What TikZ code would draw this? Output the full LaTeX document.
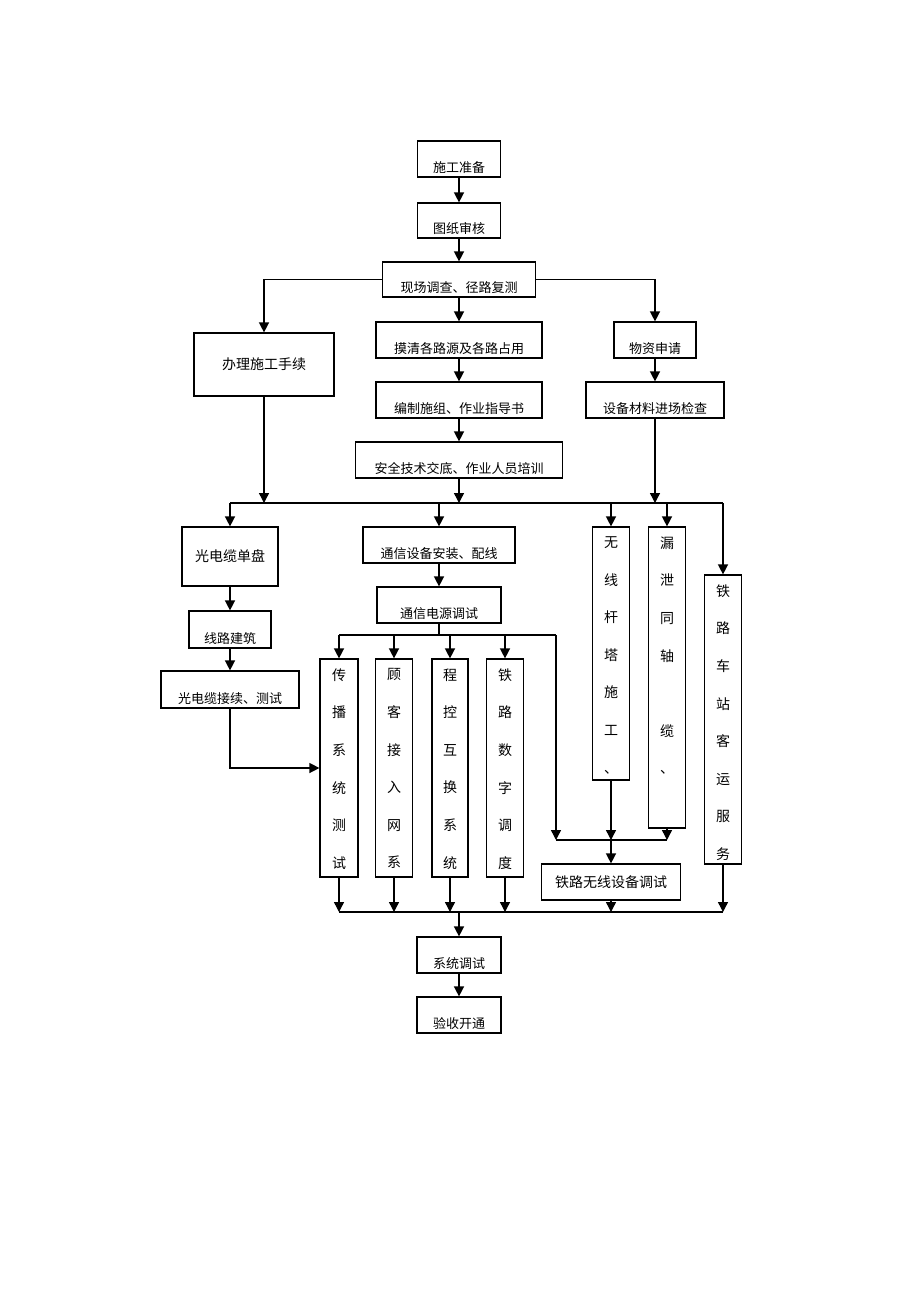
\documentclass[tikz,border=0pt]{standalone}
\usepackage{fontspec}
\newfontfamily\cjk{Noto Sans CJK SC}
\usetikzlibrary{arrows.meta,calc}
\begin{document}
\begin{tikzpicture}[x=1pt,y=-1pt,
  box/.style 2 args={draw,line width=1.2pt,inner sep=0pt,minimum width=#1,minimum height=#2},
  txt/.style={font=\cjk\fontsize{14}{14}\selectfont,inner sep=0pt},
  stxt/.style={font=\cjk\fontsize{13}{13}\selectfont,inner sep=0pt,anchor=base},
  vtxt/.style={font=\cjk\fontsize{14}{37.6}\selectfont,align=center,inner sep=0pt,anchor=north},
  arr/.style={-{Triangle[length=10pt,width=10pt]},line width=1.4pt},
  ln/.style={line width=1.4pt}]
\fill[white] (0,0) rectangle (920,1302);
\useasboundingbox (0,0) rectangle (920,1302);

% top chain
\node[box={83pt}{36pt}] (n1) at (459,159) {};
\node[stxt] (t1) at ($(n1.south)+(0,-5)$) {施工准备};
\node[box={83pt}{35pt}] (n2) at (459,220.5) {};
\node[stxt] (t2) at ($(n2.south)+(0,-5)$) {图纸审核};
\node[box={153pt}{35pt}] (n3) at (459,279.5) {};
\node[stxt] (t3) at ($(n3.south)+(0,-5)$) {现场调查、径路复测};

\node[box={140pt}{63pt},txt] (n4) at (264,364.5) {办理施工手续};
\node[box={166pt}{36pt}] (n5) at (459,340) {};
\node[stxt] (t5) at ($(n5.south)+(0,-5)$) {摸清各路源及各路占用};
\node[box={166pt}{36pt}] (n6) at (459,400) {};
\node[stxt] (t6) at ($(n6.south)+(0,-5)$) {编制施组、作业指导书};
\node[box={207pt}{36pt}] (n7) at (459,460) {};
\node[stxt] (t7) at ($(n7.south)+(0,-5)$) {安全技术交底、作业人员培训};
\node[box={82pt}{36pt}] (n8) at (655,340) {};
\node[stxt] (t8) at ($(n8.south)+(0,-5)$) {物资申请};
\node[box={138pt}{36pt}] (n9) at (655,400) {};
\node[stxt] (t9) at ($(n9.south)+(0,-5)$) {设备材料进场检查};

\draw[arr] (n1) -- (n2);
\draw[arr] (n2) -- (n3);
\draw[arr] (n3.west) -| (n4.north);
\draw[arr] (n3.east) -| (n8.north);
\draw[arr] (n3) -- (n5);
\draw[arr] (n5) -- (n6);
\draw[arr] (n6) -- (n7);
\draw[arr] (n8) -- (n9);

% first bus
\coordinate (b1L) at (230,503);
\coordinate (b1R) at (723,503);
\draw[ln] (b1L) -- (b1R);
\draw[arr] (n4.south) -- (n4.south |- b1L);
\draw[arr] (n7.south) -- (n7.south |- b1L);
\draw[arr] (n9.south) -- (n9.south |- b1L);

% left column
\node[box={96pt}{59pt},txt] (n10) at (230,556.5) {光电缆单盘};
\node[box={82pt}{37pt}] (n11) at (230,629.5) {};
\node[stxt] (t11) at ($(n11.south)+(0,-5)$) {线路建筑};
\node[box={138pt}{37pt}] (n12) at (230,689.5) {};
\node[stxt] (t12) at ($(n12.south)+(0,-5)$) {光电缆接续、测试};

% middle column
\node[box={152pt}{36pt}] (n13) at (439,545) {};
\node[stxt] (t13) at ($(n13.south)+(0,-5)$) {通信设备安装、配线};
\node[box={124pt}{36pt}] (n14) at (439,605) {};
\node[stxt] (t14) at ($(n14.south)+(0,-5)$) {通信电源调试};

% vertical boxes
\node[box={38pt}{218pt}] (v1) at (339,768) {};
\node[vtxt] (tv1) at ($(v1.north)+(0,10)$) {传\\播\\系\\统\\测\\试};
\node[box={37pt}{218pt}] (v2) at (394,768) {};
\node[vtxt] (tv2) at ($(v2.north)+(0,10)$) {顾\\客\\接\\入\\网\\系};
\node[box={36pt}{218pt}] (v3) at (450,768) {};
\node[vtxt] (tv3) at ($(v3.north)+(0,10)$) {程\\控\\互\\换\\系\\统};
\node[box={37pt}{218pt}] (v4) at (505,768) {};
\node[vtxt] (tv4) at ($(v4.north)+(0,10)$) {铁\\路\\数\\字\\调\\度};

\node[box={37pt}{253pt}] (v5) at (611,653.5) {};
\node[vtxt] (tv5) at ($(v5.north)+(0,10)$) {无\\线\\杆\\塔\\施\\工\\、};
\node[box={37pt}{301pt}] (v6) at (667,677.5) {};
\node[vtxt] (tv6) at ($(v6.north)+(0,10)$) {漏\\泄\\同\\轴\\\phantom{电}\\缆\\、};
\node[box={37pt}{289pt}] (v7) at (723,719.5) {};
\node[vtxt] (tv7) at ($(v7.north)+(0,10)$) {铁\\路\\车\\站\\客\\运\\服\\务};

\node[box={139pt}{36pt},txt] (n15) at (611,882) {铁路无线设备调试};

% arrows from first bus
\draw[arr] (b1L) -- (n10.north);
\draw[arr] (n13.north |- b1L) -- (n13.north);
\draw[arr] (v5.north |- b1L) -- (v5.north);
\draw[arr] (v6.north |- b1L) -- (v6.north);
\draw[arr] (b1R) -- (v7.north);

% left chain
\draw[arr] (n10) -- (n11);
\draw[arr] (n11) -- (n12);
\draw[arr] (n12.south) |- (v1.west);

% middle chain
\draw[arr] (n13) -- (n14);
\coordinate (b2L) at (339,635);
\coordinate (b2R) at (556,635);
\draw[ln] (n14.south) -- (n14.south |- b2L);
\draw[ln] (b2L) -- (b2R);
\draw[arr] (b2L) -- (v1.north);
\draw[arr] (v2.north |- b2L) -- (v2.north);
\draw[arr] (v3.north |- b2L) -- (v3.north);
\draw[arr] (v4.north |- b2L) -- (v4.north);

% radio merge
\coordinate (b3L) at (556,840);
\coordinate (b3R) at (667,840);
\draw[arr] (b2R) -- (b3L);
\draw[ln] (b3L) -- (b3R);
\draw[arr] (v5.south) -- (v5.south |- b3L);
\draw[arr] (v6.south) -- (b3R);
\draw[arr] (n15.north |- b3L) -- (n15.north);

% bottom bus
\coordinate (b4L) at (339,912);
\coordinate (b4R) at (723,912);
\draw[ln] (b4L) -- (b4R);
\draw[arr] (v1.south) -- (b4L);
\draw[arr] (v2.south) -- (v2.south |- b4L);
\draw[arr] (v3.south) -- (v3.south |- b4L);
\draw[arr] (v4.south) -- (v4.south |- b4L);
\draw[arr] (n15.south) -- (n15.south |- b4L);
\draw[arr] (v7.south) -- (b4R);

\node[box={84pt}{36pt}] (n16) at (459,955) {};
\node[stxt] (t16) at ($(n16.south)+(0,-5)$) {系统调试};
\node[box={84pt}{36pt}] (n17) at (459,1015) {};
\node[stxt] (t17) at ($(n17.south)+(0,-5)$) {验收开通};

\draw[arr] (n16.north |- b4L) -- (n16.north);
\draw[arr] (n16) -- (n17);
\end{tikzpicture}
\end{document}
